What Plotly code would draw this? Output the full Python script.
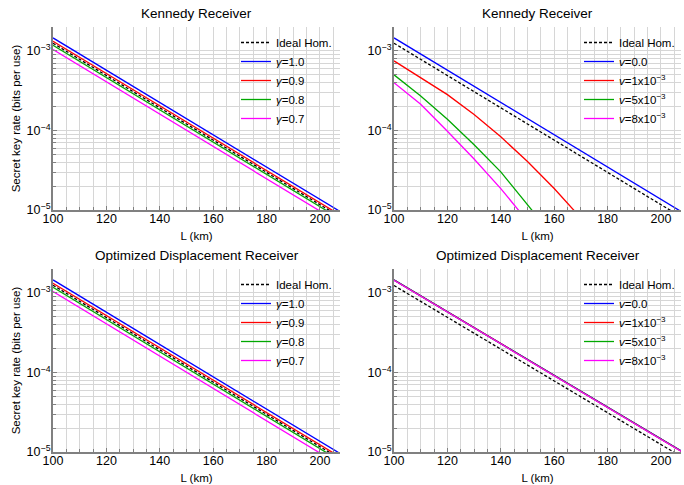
import plotly.graph_objects as go

# ---------------- data ----------------
L_lin = [100, 120, 140, 160, 180, 200, 210]

# Panel 1: Kennedy receiver, detector efficiency gamma
k_ideal = [1.25e-3, 4.908e-4, 1.927e-4, 7.564e-5, 2.970e-5, 1.166e-5, 7.31e-6]
k_g10 = [1.46e-3, 5.732e-4, 2.250e-4, 8.835e-5, 3.469e-5, 1.362e-5, 8.53e-6]
k_g09 = [1.32e-3, 5.182e-4, 2.035e-4, 7.988e-5, 3.136e-5, 1.231e-5, 7.72e-6]
k_g08 = [1.18e-3, 4.633e-4, 1.819e-4, 7.140e-5, 2.803e-5, 1.101e-5, 6.90e-6]
k_g07 = [1.04e-3, 4.083e-4, 1.603e-4, 6.293e-5, 2.471e-5, 9.70e-6, 6.08e-6]

# Panel 2: Kennedy receiver, dark count v
k_v0 = [1.46e-3, 5.732e-4, 2.250e-4, 8.835e-5, 3.469e-5, 1.362e-5, 8.53e-6]
L_v1 = [100, 110, 120, 130, 140, 150, 160, 170]
k_v1 = [7.5e-4, 4.62e-4, 2.82e-4, 1.585e-4, 8.32e-5, 4.07e-5, 1.86e-5, 7.94e-6]
L_v5 = [100, 110, 120, 130, 140, 150, 155]
k_v5 = [5.01e-4, 2.72e-4, 1.38e-4, 6.61e-5, 3.02e-5, 1.2e-5, 7.24e-6]
L_v8 = [100, 110, 120, 130, 140, 145, 150]
k_v8 = [3.98e-4, 2.14e-4, 9.77e-5, 4.37e-5, 1.86e-5, 1.17e-5, 7.24e-6]

# Panel 3: optimized displacement receiver, gamma
d_ideal = [1.25e-3, 4.908e-4, 1.927e-4, 7.564e-5, 2.970e-5, 1.166e-5, 7.31e-6]
d_g10 = [1.46e-3, 5.732e-4, 2.250e-4, 8.835e-5, 3.469e-5, 1.362e-5, 8.53e-6]
d_g09 = [1.32e-3, 5.182e-4, 2.035e-4, 7.988e-5, 3.136e-5, 1.231e-5, 7.72e-6]
d_g08 = [1.18e-3, 4.633e-4, 1.819e-4, 7.140e-5, 2.803e-5, 1.101e-5, 6.90e-6]
d_g07 = [1.04e-3, 4.083e-4, 1.603e-4, 6.293e-5, 2.471e-5, 9.70e-6, 6.08e-6]

# Panel 4: optimized displacement receiver, dark count v
d2_ideal = [1.24e-3, 4.94e-4, 1.966e-4, 7.83e-5, 3.12e-5, 1.24e-5, 7.83e-6]
d2_v0 = [1.46e-3, 5.81e-4, 2.314e-4, 9.21e-5, 3.67e-5, 1.46e-5, 9.21e-6]
d2_v1 = [1.455e-3, 5.79e-4, 2.306e-4, 9.18e-5, 3.65e-5, 1.455e-5, 9.18e-6]
d2_v5 = [1.45e-3, 5.77e-4, 2.298e-4, 9.15e-5, 3.64e-5, 1.45e-5, 9.15e-6]
d2_v8 = [1.445e-3, 5.75e-4, 2.290e-4, 9.12e-5, 3.63e-5, 1.445e-5, 9.12e-6]

titles = ["Kennedy Receiver", "Kennedy Receiver",
          "Optimized Displacement Receiver", "Optimized Displacement Receiver"]
g_labels = ["Ideal Hom.", "<i>γ</i>=1.0", "<i>γ</i>=0.9", "<i>γ</i>=0.8", "<i>γ</i>=0.7"]
v_labels = ["Ideal Hom.", "<i>v</i>=0.0", "<i>v</i>=1x10<sup>−3</sup>",
            "<i>v</i>=5x10<sup>−3</sup>", "<i>v</i>=8x10<sup>−3</sup>"]
y_tickvals = [1e-5, 1e-4, 1e-3]
y_ticktext = ["10<sup>−5</sup>", "10<sup>−4</sup>", "10<sup>−3</sup>"]

BLUE, RED, GREEN, MAG = "#0000ff", "#ff0000", "#00a800", "#ff00ff"

# ---------------- figure ----------------
fig = go.Figure()

def add(panel, x, y, name, color, dash="solid", legend="legend"):
    sfx = "" if panel == 1 else str(panel)
    fig.add_trace(go.Scatter(
        x=x, y=y, mode="lines", name=name,
        line=dict(color=color, width=1.3, dash=dash),
        xaxis="x" + sfx, yaxis="y" + sfx, legend=legend))

# panel 1
add(1, L_lin, k_ideal, g_labels[0], "black", "3px,2px", "legend")
add(1, L_lin, k_g10, g_labels[1], BLUE, legend="legend")
add(1, L_lin, k_g09, g_labels[2], RED, legend="legend")
add(1, L_lin, k_g08, g_labels[3], GREEN, legend="legend")
add(1, L_lin, k_g07, g_labels[4], MAG, legend="legend")
# panel 2
add(2, L_lin, k_ideal, v_labels[0], "black", "3px,2px", "legend2")
add(2, L_lin, k_v0, v_labels[1], BLUE, legend="legend2")
add(2, L_v1, k_v1, v_labels[2], RED, legend="legend2")
add(2, L_v5, k_v5, v_labels[3], GREEN, legend="legend2")
add(2, L_v8, k_v8, v_labels[4], MAG, legend="legend2")
# panel 3
add(3, L_lin, d_ideal, g_labels[0], "black", "3px,2px", "legend3")
add(3, L_lin, d_g10, g_labels[1], BLUE, legend="legend3")
add(3, L_lin, d_g09, g_labels[2], RED, legend="legend3")
add(3, L_lin, d_g08, g_labels[3], GREEN, legend="legend3")
add(3, L_lin, d_g07, g_labels[4], MAG, legend="legend3")
# panel 4
add(4, L_lin, d2_ideal, v_labels[0], "black", "3px,2px", "legend4")
add(4, L_lin, d2_v0, v_labels[1], BLUE, legend="legend4")
add(4, L_lin, d2_v1, v_labels[2], RED, legend="legend4")
add(4, L_lin, d2_v5, v_labels[3], GREEN, legend="legend4")
add(4, L_lin, d2_v8, v_labels[4], MAG, legend="legend4")

W, H = 684, 485
xdom = {1: [53 / W, 340 / W], 2: [394 / W, 681 / W]}
ydom = {1: [1 - 210 / H, 1 - 27 / H], 2: [1 - 452 / H, 1 - 269 / H]}
GRID = "#d6d6d6"
AXC = "#808080"
minor_y = [m * 10.0 ** e for e in (-5, -4, -3) for m in range(2, 10)]

layout = dict(
    width=W, height=H, margin=dict(l=0, r=0, t=0, b=0, autoexpand=False),
    paper_bgcolor="white", plot_bgcolor="white",
    font=dict(family="Liberation Sans, Arial, sans-serif", color="black", size=12),
    showlegend=True,
)

for p in (1, 2, 3, 4):
    sfx = "" if p == 1 else str(p)
    col = 1 if p in (1, 3) else 2
    row = 1 if p in (1, 2) else 2
    layout["xaxis" + sfx] = dict(
        domain=xdom[col], anchor="y" + sfx, range=[100, 207.5], automargin=False,
        tick0=100, dtick=20, ticks="inside", ticklen=4, tickcolor=AXC,
        showgrid=True, gridcolor=GRID, gridwidth=1, zeroline=False,
        showline=True, linecolor=AXC, linewidth=2,
        minor=dict(dtick=5, showgrid=True, gridcolor=GRID, ticks="inside",
                   ticklen=3, tickcolor=AXC),
        tickfont=dict(size=12.5), ticklabelstandoff=-4,
        title=dict(text="L (km)", font=dict(size=11.5), standoff=7),
    )
    ya = dict(
        domain=ydom[row], anchor="x" + sfx, type="log", range=[-5, -2.699],
        automargin=False,
        tickvals=y_tickvals, ticktext=y_ticktext, ticks="inside", ticklen=4,
        tickcolor=AXC, showgrid=True, gridcolor=GRID, gridwidth=1, zeroline=False,
        showline=True, linecolor=AXC, linewidth=2,
        minor=dict(tickvals=minor_y, showgrid=True, gridcolor=GRID, ticks="inside",
                   ticklen=3, tickcolor=AXC),
        tickfont=dict(size=12.5), ticklabelstandoff=-2,
    )
    if col == 1:
        ya["title"] = dict(text="Secret key rate (bits per use)", font=dict(size=11.5), standoff=4)
    layout["yaxis" + sfx] = ya

leg_common = dict(xanchor="left", yanchor="top", bgcolor="rgba(0,0,0,0)",
                  font=dict(size=11.5), tracegroupgap=0, itemwidth=30)
layout["legend"] = dict(x=236 / W, y=1 - 28 / H, **leg_common)
layout["legend2"] = dict(x=579 / W, y=1 - 28 / H, **leg_common)
layout["legend3"] = dict(x=236 / W, y=1 - 270 / H, **leg_common)
layout["legend4"] = dict(x=579 / W, y=1 - 270 / H, **leg_common)

ann = []
centers = {1: (53 + 340) / 2 / W, 2: (394 + 681) / 2 / W}
for p, t in enumerate(titles, start=1):
    col = 1 if p in (1, 3) else 2
    ytop = 1 - 13 / H if p in (1, 2) else 1 - 255 / H
    ann.append(dict(text=t, x=centers[col], y=ytop, xref="paper", yref="paper",
                    xanchor="center", yanchor="middle", showarrow=False,
                    font=dict(size=13.5)))
layout["annotations"] = ann

fig.update_layout(**layout)
fig.write_html(
    "out.html",
    config={"displayModeBar": False},
    post_script="document.body.style.margin='0';document.body.style.overflow='hidden';",
)
